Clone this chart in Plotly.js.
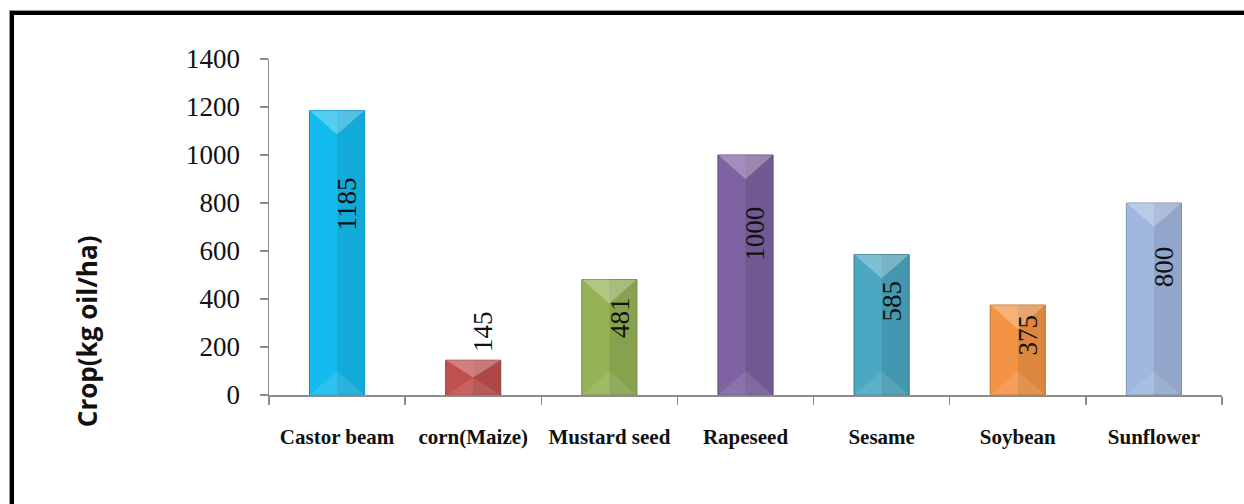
<!DOCTYPE html>
<html><head><meta charset="utf-8">
<script src="https://cdn.plot.ly/plotly-3.0.1.min.js"></script>
<style>
html,body{margin:0;padding:0;background:#fff;}
#wrap{position:relative;width:1244px;height:504px;overflow:hidden;}
#chart{position:absolute;left:0;top:0;width:1244px;height:504px;}
#frame{position:absolute;left:10px;top:11px;width:1300px;height:600px;border-left:4px solid #000;border-top:4px solid #000;box-shadow:-1px -1px 0 #999;pointer-events:none;}
</style></head>
<body><div id="wrap"><div id="chart"></div><div id="frame"></div></div>
<script>
const categories = ["Castor beam","corn(Maize)","Mustard seed","Rapeseed","Sesame","Soybean","Sunflower"];
const values = [1185,145,481,1000,585,375,800];
const colors = ["#14BBEE","#C0504D","#95B255","#7E62A1","#4AA8C2","#F39444","#A0B7DE"];
const edgeColors = ["#0A9AC8","#98403D","#738A40","#5E4780","#357F93","#C8742F","#7F93B5"];
const yTicks = [0,200,400,600,800,1000,1200,1400];

const SERIF = 'Liberation Serif';
const halfW = 0.2;
const shapes = [];
const annotations = [];
values.forEach((v,i)=>{
  const d = Math.min(100, v/2);
  shapes.push({type:'rect',xref:'x',yref:'y',x0:i,x1:i+halfW,y0:0,y1:v,fillcolor:'rgba(0,0,0,0.09)',line:{width:0},layer:'above'});
  shapes.push({type:'path',xref:'x',yref:'y',path:`M ${i-halfW},${v} L ${i+halfW},${v} L ${i},${v-d} Z`,fillcolor:'rgba(255,255,255,0.28)',line:{width:0},layer:'above'});
  shapes.push({type:'path',xref:'x',yref:'y',path:`M ${i-halfW},0 L ${i+halfW},0 L ${i},${d} Z`,fillcolor:'rgba(255,255,255,0.10)',line:{width:0},layer:'above'});
  const outside = v < 200;
  annotations.push(outside ? {
    x:i, y:v, xref:'x', yref:'y', text:String(v), showarrow:false, textangle:-90,
    yanchor:'bottom', yshift:6, xshift:9,
    font:{family:SERIF, size:27, color:'#111'}
  } : {
    x:i, y:v*0.67, xref:'x', yref:'y', text:String(v), showarrow:false, textangle:-90,
    yanchor:'middle', xshift:10,
    font:{family:SERIF, size:27, color:'#111'}
  });
});
annotations.push({
  xref:'paper', yref:'paper', x:-0.191, y:0.19, xanchor:'center', yanchor:'middle',
  text:'<b>Crop(kg oil/ha)</b>', textangle:-90, showarrow:false,
  font:{family:'Open Sans', size:26, color:'#111'}
});

const trace = {
  type:'bar', x:categories, y:values,
  marker:{color:colors, line:{color:edgeColors, width:1}},
  hoverinfo:'x+y'
};

const layout = {
  width:1244, height:504,
  font:{family:SERIF, color:'#111'},
  margin:{l:269, r:22, t:59, b:109, pad:0},
  paper_bgcolor:'#fff', plot_bgcolor:'#fff',
  showlegend:false, bargap:0.595,
  xaxis:{
    type:'category', showline:true, linecolor:'#8c8c8c', linewidth:1.5,
    ticks:'outside', tickson:'boundaries', ticklen:8, tickcolor:'#8c8c8c', tickwidth:1.5,
    showgrid:false, zeroline:false,
    tickfont:{family:SERIF, size:21, color:'#111', weight:'bold'},
    ticklabelstandoff:22
  },
  yaxis:{
    range:[0,1400], tickvals:yTicks, ticktext:yTicks.map(String),
    showline:true, linecolor:'#8c8c8c', linewidth:1.5,
    ticks:'outside', ticklen:8, tickcolor:'#8c8c8c', tickwidth:1.5,
    showgrid:false, zeroline:false,
    tickfont:{family:SERIF, size:27, color:'#111'},
    ticklabelstandoff:14
  },
  shapes:shapes, annotations:annotations
};
Plotly.newPlot('chart',[trace],layout,{displayModeBar:false,staticPlot:true});
</script></body></html>
